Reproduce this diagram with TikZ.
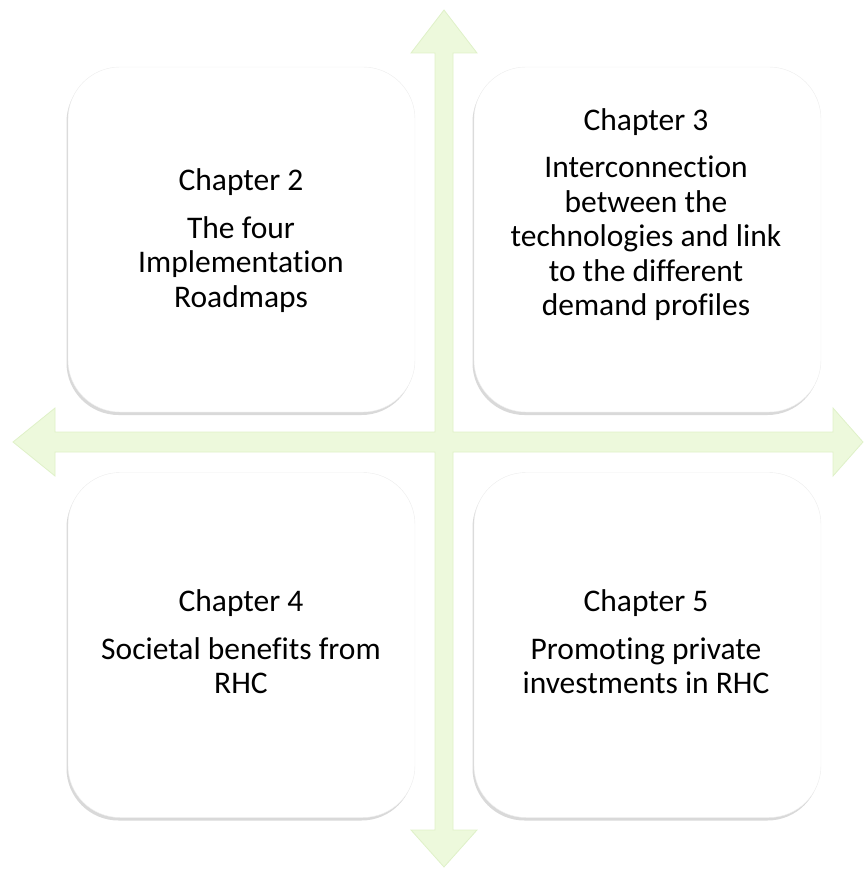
\documentclass[tikz,border=0pt]{standalone}
\usepackage{fontspec}
\setmainfont{Carlito}[Ligatures=NoCommon]
\usetikzlibrary{shadows}

\definecolor{axisfill}{HTML}{EDF9DC}
\definecolor{axisedge}{HTML}{DFF1C8}

\begin{document}
\begin{tikzpicture}[x=1pt, y=-1pt,
   chapbox/.style={draw=black!7, fill=white, rounded corners=52pt,
                   minimum width=347pt, minimum height=345pt,
                   drop shadow={shadow xshift=-1.5pt, shadow yshift=-3pt, opacity=0.3}},
   chaptext/.style={align=center, inner sep=0pt,
                    font=\fontsize{31.5}{34.5}\selectfont},
   axis/.style={fill=axisfill, draw=axisedge, line width=0.8pt, line join=miter}]

\useasboundingbox (0,0) rectangle (864,869);

% the four-way arrow behind the boxes
\coordinate (hub) at (444,442);
\draw[axis] (444,10) -- (477,53) -- (453,53) -- (453,432)
   -- (833,432) -- (833,408) -- (863,442) -- (833,476) -- (833,452)
   -- (453,452) -- (453,830) -- (477,830) -- (444,867) -- (411,830) -- (435,830)
   -- (435,452) -- (55,452) -- (55,476) -- (13,442) -- (55,408) -- (55,432)
   -- (435,432) -- (435,53) -- (411,53) -- cycle;

% chapter boxes
\node[chapbox] (ch2) at (241.5,239.5) {};
\node[chapbox] (ch3) at (647.5,239.5) {};
\node[chapbox] (ch4) at (241.5,645) {};
\node[chapbox] (ch5) at (647.5,645) {};

\node[chaptext] (ch2txt) at (241,240.5) {Chapter 2\\[13pt]The four\\Implementation\\Roadmaps};
\node[chaptext] (ch3txt) at (646,214.5) {Chapter 3\\[13pt]Interconnection\\between the\\technologies and link\\to the different\\demand profiles};
\node[chaptext] (ch4txt) at (241,642) {Chapter 4\\[13pt]Societal benefits from\\RHC};
\node[chaptext] (ch5txt) at (646,642) {Chapter 5\\[13pt]Promoting private\\investments in RHC};

\end{tikzpicture}
\end{document}
